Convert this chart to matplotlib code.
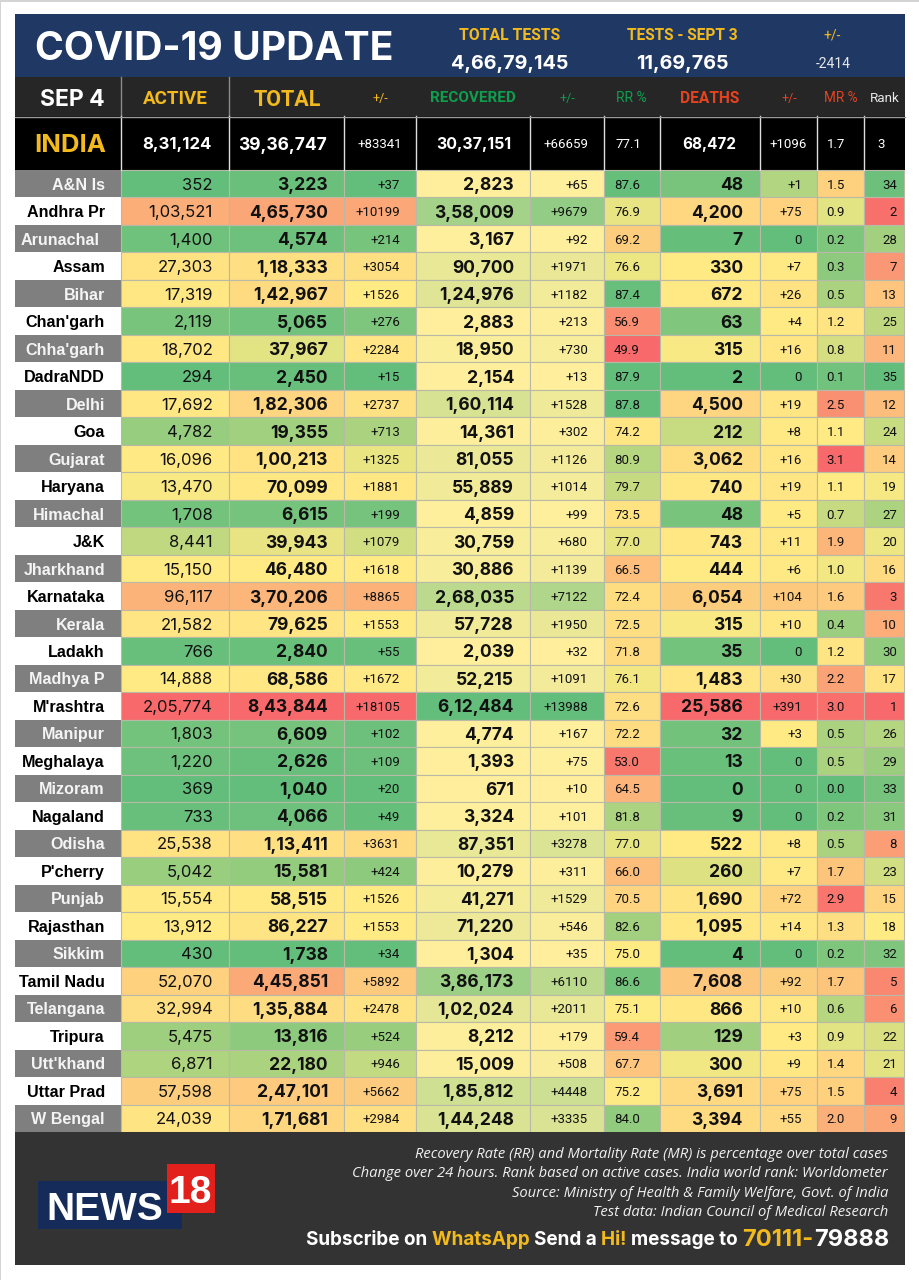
import numpy as np
import matplotlib
matplotlib.use("Agg")
import matplotlib.pyplot as plt
from matplotlib.colors import LinearSegmentedColormap, TwoSlopeNorm, Normalize
from matplotlib.patches import Rectangle

states = ["A&N Is", "Andhra Pr", "Arunachal", "Assam", "Bihar", "Chan'garh", "Chha'garh",
          "DadraNDD", "Delhi", "Goa", "Gujarat", "Haryana", "Himachal", "J&K", "Jharkhand",
          "Karnataka", "Kerala", "Ladakh", "Madhya P", "M'rashtra", "Manipur", "Meghalaya",
          "Mizoram", "Nagaland", "Odisha", "P'cherry", "Punjab", "Rajasthan", "Sikkim",
          "Tamil Nadu", "Telangana", "Tripura", "Utt'khand", "Uttar Prad", "W Bengal"]
active = [352, 103521, 1400, 27303, 17319, 2119, 18702, 294, 17692, 4782, 16096, 13470, 1708,
          8441, 15150, 96117, 21582, 766, 14888, 205774, 1803, 1220, 369, 733, 25538, 5042,
          15554, 13912, 430, 52070, 32994, 5475, 6871, 57598, 24039]
total = [3223, 465730, 4574, 118333, 142967, 5065, 37967, 2450, 182306, 19355, 100213, 70099,
         6615, 39943, 46480, 370206, 79625, 2840, 68586, 843844, 6609, 2626, 1040, 4066, 113411,
         15581, 58515, 86227, 1738, 445851, 135884, 13816, 22180, 247101, 171681]
total_delta = [37, 10199, 214, 3054, 1526, 276, 2284, 15, 2737, 713, 1325, 1881, 199, 1079, 1618,
               8865, 1553, 55, 1672, 18105, 102, 109, 20, 49, 3631, 424, 1526, 1553, 34, 5892,
               2478, 524, 946, 5662, 2984]
recovered = [2823, 358009, 3167, 90700, 124976, 2883, 18950, 2154, 160114, 14361, 81055, 55889,
             4859, 30759, 30886, 268035, 57728, 2039, 52215, 612484, 4774, 1393, 671, 3324, 87351,
             10279, 41271, 71220, 1304, 386173, 102024, 8212, 15009, 185812, 144248]
rec_delta = [65, 9679, 92, 1971, 1182, 213, 730, 13, 1528, 302, 1126, 1014, 99, 680, 1139, 7122,
             1950, 32, 1091, 13988, 167, 75, 10, 101, 3278, 311, 1529, 546, 35, 6110, 2011, 179,
             508, 4448, 3335]
rr_pct = [87.6, 76.9, 69.2, 76.6, 87.4, 56.9, 49.9, 87.9, 87.8, 74.2, 80.9, 79.7, 73.5, 77.0, 66.5,
          72.4, 72.5, 71.8, 76.1, 72.6, 72.2, 53.0, 64.5, 81.8, 77.0, 66.0, 70.5, 82.6, 75.0, 86.6,
          75.1, 59.4, 67.7, 75.2, 84.0]
deaths = [48, 4200, 7, 330, 672, 63, 315, 2, 4500, 212, 3062, 740, 48, 743, 444, 6054, 315, 35,
          1483, 25586, 32, 13, 0, 9, 522, 260, 1690, 1095, 4, 7608, 866, 129, 300, 3691, 3394]
death_delta = [1, 75, 0, 7, 26, 4, 16, 0, 19, 8, 16, 19, 5, 11, 6, 104, 10, 0, 30, 391, 3, 0, 0, 0,
               8, 7, 72, 14, 0, 92, 10, 3, 9, 75, 55]
mr_pct = [1.5, 0.9, 0.2, 0.3, 0.5, 1.2, 0.8, 0.1, 2.5, 1.1, 3.1, 1.1, 0.7, 1.9, 1.0, 1.6, 0.4, 1.2,
          2.2, 3.0, 0.5, 0.5, 0.0, 0.2, 0.5, 1.7, 2.9, 1.3, 0.2, 1.7, 0.6, 0.9, 1.4, 1.5, 2.0]
rank = [34, 2, 28, 7, 13, 25, 11, 35, 12, 24, 14, 19, 27, 20, 16, 3, 10, 30, 17, 1, 26, 29, 33, 31,
        8, 23, 15, 18, 32, 5, 6, 22, 21, 4, 9]

india_row = ["8,31,124", "39,36,747", "+83341", "30,37,151", "+66659", "77.1", "68,472", "+1096", "1.7", "3"]
column_heads = ["ACTIVE", "TOTAL", "+/-", "RECOVERED", "+/-", "RR %", "DEATHS", "+/-", "MR %", "Rank"]
notes = ["Recovery Rate (RR) and Mortality Rate (MR) is percentage over total cases",
         "Change over 24 hours. Rank based on active cases. India world rank: Worldometer",
         "Source: Ministry of Health & Family Welfare, Govt. of India",
         "Test data: Indian Council of Medical Research"]

GREEN, YELLOW, RED, PALE = "#63BE7B", "#FFEB84", "#F8696B", "#FFEF9C"
GOLD = "#F2BA1D"
HEAD_GREEN = "#0F9D4E"
HEAD_RED = "#E5431F"
SANS = "Roboto"
WIDE = "Inter"

gyr = LinearSegmentedColormap.from_list("gyr", [GREEN, YELLOW, RED])
ryg = gyr.reversed()
yg = LinearSegmentedColormap.from_list("yg", [PALE, GREEN])


def lakh(n):
    s = str(n)
    if len(s) <= 3:
        return s
    head, tail = s[:-3], s[-3:]
    parts = []
    while len(head) > 2:
        parts.insert(0, head[-2:])
        head = head[:-2]
    if head:
        parts.insert(0, head)
    return ",".join(parts + [tail])


def signed(n):
    return "0" if n == 0 else "+%d" % n


def three(vals, cmap, mid=None):
    v = np.array(vals, dtype=float)
    mid = np.median(v) if mid is None else mid
    norm = TwoSlopeNorm(vcenter=mid, vmin=v.min(), vmax=v.max())
    return [cmap(norm(x)) for x in v]


def two(vals):
    v = np.array(vals, dtype=float)
    norm = Normalize(v.min(), v.max())
    return [yg(norm(x)) for x in v]


# columns: label text, fill colours, right edge of text, size, font, weight
edges = [121.5, 229, 344.5, 416, 530.5, 604, 660, 760, 817.5, 864.5, 904.5]
columns = [
    ([lakh(x) for x in active], three(active, gyr), 213, 12, WIDE, "normal"),
    ([lakh(x) for x in total], three(total, gyr), 328, 12.6, WIDE, "bold"),
    ([signed(x) for x in total_delta], three(total_delta, gyr), 400, 9.5, SANS, "normal"),
    ([lakh(x) for x in recovered], two(recovered), 514, 12.6, WIDE, "bold"),
    ([signed(x) for x in rec_delta], two(rec_delta), 588, 9.5, SANS, "normal"),
    (["%.1f" % x for x in rr_pct], three(rr_pct, ryg), 640, 9.5, SANS, "normal"),
    ([lakh(x) for x in deaths], three(deaths, gyr), 743, 12.6, WIDE, "bold"),
    ([signed(x) for x in death_delta], three(death_delta, gyr, mid=2), 802, 9.5, SANS, "normal"),
    (["%.1f" % x for x in mr_pct], three(mr_pct, gyr, mid=1.1), 845, 9.5, SANS, "normal"),
    ([str(x) for x in rank], three(rank, ryg), 897, 9.5, SANS, "normal"),
]

fig = plt.figure(figsize=(9.2, 12.8), dpi=100, facecolor="white")
ax = fig.add_axes([0, 0, 1, 1])
ax.set_xlim(0, 920)
ax.set_ylim(1280, 0)
ax.axis("off")


def box(x0, y0, x1, y1, color, edge="none", lw=0):
    ax.add_patch(Rectangle((x0, y0), x1 - x0, y1 - y0, facecolor=color, edgecolor=edge, linewidth=lw))


def label(x, y, s, size, color="white", ha="center", font=SANS, weight="normal", style="normal"):
    return ax.text(x, y, s, fontsize=size, color=color, ha=ha, va="center_baseline",
                   family=font, weight=weight, style=style)


# page edge
box(0, 0, 920, 1.5, "#D4D4D4")
box(0, 0, 1.5, 1280, "#D4D4D4")

# banner
box(15, 14, 905, 77, "#1F3864")
label(35, 46, "COVID-19 UPDATE", 28.2, ha="left", font=WIDE, weight="bold")
label(510, 34, "TOTAL TESTS", 11.3, GOLD, weight="bold")
label(510, 62, "4,66,79,145", 14.2, weight="bold", font=WIDE)
label(682, 34, "TESTS - SEPT 3", 11.2, GOLD, weight="bold")
label(682, 62, "11,69,765", 14.2, weight="bold", font=WIDE)
label(832, 34, "+/-", 10, GOLD)
label(833, 62, "-2414", 10, "#E8E8E8")

# column heads
box(15, 77, 905, 116, "#262626")
box(15, 116, 905, 170, "#000000")
head_x = [175, 287, 380, 473, 567, 631, 710, 789, 841, 885]
head_style = [(13.5, GOLD, "bold"), (15.5, GOLD, "bold"), (9, GOLD, "normal"), (11, HEAD_GREEN, "bold"),
              (9, HEAD_GREEN, "normal"), (10, HEAD_GREEN, "normal"), (11.2, HEAD_RED, "bold"),
              (9, HEAD_RED, "normal"), (9.8, HEAD_RED, "normal"), (9.7, "#E8E8E8", "normal")]
label(72, 97, "SEP 4", 16.5, weight="bold", font=WIDE)
for x, s, (size, color, weight) in zip(head_x, column_heads, head_style):
    label(x, 97, s, size, color, weight=weight)
label(70, 143, "INDIA", 18.5, GOLD, weight="bold", font=WIDE)
india_size = [12, 12.6, 9.5, 11.5, 9.5, 9.5, 11, 9.5, 9.5, 9.5]
india_x = [177, 283, 380, 474, 566, 628, 709, 788, 836, 881]
for i, (x, s) in enumerate(zip(india_x, india_row)):
    big = india_size[i] > 10
    label(x, 143, s, india_size[i], font=WIDE if big else SANS, weight="bold" if big else "normal")
for j, e in enumerate(edges[:-1]):
    if j < 2:
        ax.plot([e, e], [77, 116], color="#8A8A8A", lw=1)
    ax.plot([e, e], [116, 170], color="#DDDDDD", lw=1)
ax.plot([15, 905], [116.5, 116.5], color="#9A9A9A", lw=1)

# body
top, row_h = 170, (1132 - 170) / len(states)
for i, name in enumerate(states):
    y0 = top + i * row_h
    y = y0 + row_h / 2
    odd = i % 2 == 0
    box(15, y0, edges[0], y0 + row_h, "#7F7F7F" if odd else "white")
    name_x = 100 if name == "Arunachal" else 105
    label(name_x, y, name, 11.6, "#F4F4F4" if odd else "black", ha="right", font="Liberation Sans", weight="bold")
    for c, (texts, fills, right, size, font, weight) in enumerate(columns):
        box(edges[c], y0, edges[c + 1], y0 + row_h, fills[i], edge="#B9B9A8", lw=0.8)
        label(right, y, texts[i], size, "#111111", ha="right", font=font, weight=weight)

# footer
box(15, 1132, 905, 1265, "#333333")
for k, note in enumerate(notes):
    label(888, 1152 + k * 19.6, note, 10.6, "#F0F0F0", ha="right", font="Open Sans", style="italic")

box(38, 1181, 182, 1229, "#152C5B")
box(167, 1164, 215, 1213, "#E2211C")
label(105, 1206, "NEWS", 28, weight="bold", font="Liberation Sans")
label(190, 1189, "18", 28, weight="bold", font="Liberation Sans")

# subscribe line is built from the right so the colours butt up
pieces = [("79888", 17, "white"), ("70111-", 17, GOLD), ("message to ", 13.6, "white"), ("Hi! ", 13.6, GOLD),
          ("Send a ", 13.6, "white"), ("WhatsApp ", 13.6, GOLD), ("Subscribe on ", 13.6, "white")]
fig.canvas.draw()
renderer = fig.canvas.get_renderer()
x = 889
for s, size, color in pieces:
    t = label(x, 1238, s.replace(" ", "\u00a0"), size, color, ha="right", font=WIDE, weight="bold")
    x -= t.get_window_extent(renderer).width

fig.savefig("out.png", dpi=100)
